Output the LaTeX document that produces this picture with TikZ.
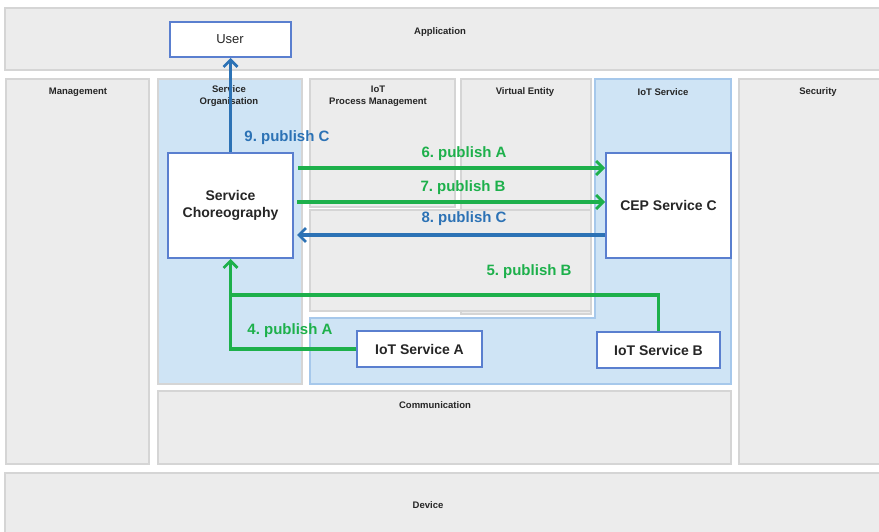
\documentclass[tikz,border=0pt]{standalone}
\usepackage{fontspec}
\setmainfont{Liberation Sans}
\usetikzlibrary{arrows.meta}
\definecolor{panelfill}{HTML}{ECECEC}
\definecolor{paneledge}{HTML}{D5D5D5}
\definecolor{bluefill}{HTML}{CFE4F5}
\definecolor{blueedge}{HTML}{A6C8EB}
\definecolor{boxedge}{HTML}{5A7FCF}
\definecolor{pubgreen}{HTML}{1DB04B}
\definecolor{pubblue}{HTML}{2C72B5}
\definecolor{txt}{HTML}{262626}
\tikzset{
  panel/.style={fill=panelfill, draw=paneledge, line width=2.5pt},
  bluepanel/.style={fill=bluefill, draw=paneledge, line width=2.5pt},
  paneltitle/.style={font=\bfseries\fontsize{9.5}{12.5}\selectfont, text=txt, align=center},
  svcbox/.style={draw=boxedge, fill=white, line width=2pt, font=\bfseries\fontsize{14}{17}\selectfont,
                 text=txt, align=center, inner sep=0pt},
  flow/.style={line width=3.2pt, -{Straight Barb[length=7pt,width=14pt,line width=2.8pt]}},
  greenflow/.style={flow, draw=pubgreen},
  blueflow/.style={flow, draw=pubblue},
  flowlabel/.style={font=\bfseries\fontsize{15}{17}\selectfont}
}
\begin{document}
\frenchspacing
\begin{tikzpicture}[x=1pt,y=-1pt]
\useasboundingbox (0,0) rectangle (879,532);
\fill[white] (0,0) rectangle (879,532);

% architecture layers
\draw[panel] (5,8) rectangle (882,70);
\draw[panel] (6,79) rectangle (149,464);
\draw[bluepanel] (158,79) rectangle (302,384);
\draw[panel] (739,79) rectangle (882,464);
\draw[panel] (158,391) rectangle (731,464);
\draw[panel] (5,473) rectangle (882,535);

% IoT Service layer (L-shaped)
\draw[fill=bluefill, draw=blueedge, line width=2.5pt]
  (595,79) -- (731,79) -- (731,384) -- (310,384) -- (310,318) -- (595,318) -- cycle;

% process management and virtual entity layers
\draw[panel] (461,79) rectangle (591,314);
\draw[panel] (310,79) rectangle (455,207);
\draw[panel] (310,210) rectangle (591,311);

% layer titles
\node[paneltitle] (tApp) at (440,32) {Application};
\node[paneltitle] (tMgmt) at (78,92) {Management};
\node[paneltitle] (tSO) at (229,96) {Service\\Organisation};
\node[paneltitle] (tPM) at (378,96) {IoT\\Process Management};
\node[paneltitle] (tVE) at (525,92) {Virtual Entity};
\node[paneltitle] (tIS) at (663,92) {IoT Service};
\node[paneltitle] (tSec) at (818,92) {Security};
\node[paneltitle] (tCom) at (435,405) {Communication};
\node[paneltitle] (tDev) at (428,505) {Device};

% services
\node[svcbox, minimum width=121pt, minimum height=35pt, font=\fontsize{13}{15}\selectfont] (user) at (230,39.5) {User};
\node[svcbox, minimum width=125pt, minimum height=105pt] (chor) at (230.5,205.5) {Service\\Choreography};
\node[svcbox, minimum width=125pt, minimum height=105pt] (cep) at (668.5,205.5) {CEP Service C};
\node[svcbox, minimum width=125pt, minimum height=36pt] (ioa) at (419.5,349) {IoT Service A};
\node[svcbox, minimum width=123pt, minimum height=36pt] (iob) at (658.5,350) {IoT Service B};

% event flows
\coordinate (join5) at (230.5,295);
\draw[greenflow] (ioa.west) -| (chor.south);
\draw[line width=3.2pt, draw=pubgreen] (iob.north) |- (join5);
\draw[greenflow] ([xshift=4pt,yshift=37.5pt]chor.east) -- ([yshift=37.5pt]cep.west);
\draw[greenflow] ([xshift=3pt,yshift=3.5pt]chor.east) -- ([yshift=3.5pt]cep.west);
\draw[blueflow] ([yshift=-29.5pt]cep.west) -- ([xshift=3pt,yshift=-29.5pt]chor.east);
\draw[blueflow] (chor.north) -- (chor.north |- user.south);

% flow labels
\node[flowlabel, text=pubblue] (l9) at (287,138) {9. publish C};
\node[flowlabel, text=pubgreen] (l6) at (464,154) {6. publish A};
\node[flowlabel, text=pubgreen] (l7) at (463,188) {7. publish B};
\node[flowlabel, text=pubblue] (l8) at (464,219) {8. publish C};
\node[flowlabel, text=pubgreen] (l5) at (529,272) {5. publish B};
\node[flowlabel, text=pubgreen] (l4) at (290,331) {4. publish A};
\end{tikzpicture}
\end{document}
